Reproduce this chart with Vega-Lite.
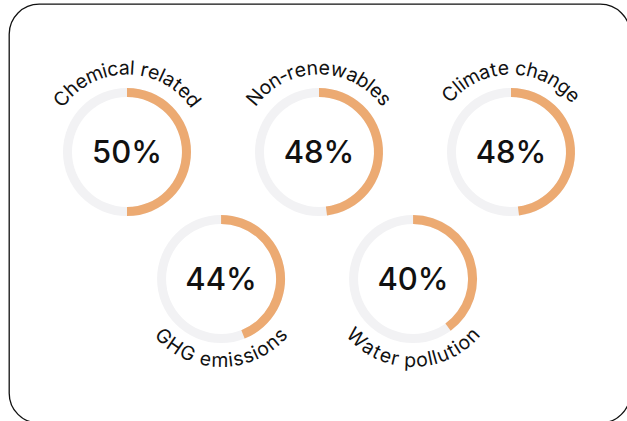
{
  "$schema": "https://vega.github.io/schema/vega-lite/v6.json",
  "width": 621,
  "height": 419,
  "autosize": {"type": "none"},
  "padding": {"left": 9, "top": 4, "right": 0, "bottom": 0},
  "background": "white",
  "config": {
    "view": {"stroke": "#111111", "strokeWidth": 1.3, "cornerRadius": 30},
    "font": "Inter"
  },
  "data": {
    "values": [
      {"label": "Chemical related", "pct": 50, "idx": 0},
      {"label": "Non-renewables", "pct": 48, "idx": 1},
      {"label": "Climate change", "pct": 48, "idx": 2},
      {"label": "GHG emissions", "pct": 44, "idx": 3},
      {"label": "Water pollution", "pct": 40, "idx": 4}
    ]
  },
  "transform": [
    {"calculate": "datum.idx < 3 ? datum.idx : datum.idx - 2.51", "as": "gx"},
    {"calculate": "datum.idx < 3 ? 0 : 1", "as": "gy"}
  ],
  "encoding": {
    "x": {"field": "gx", "type": "quantitative", "axis": null, "scale": {"domain": [-0.61458, 2.61979], "nice": false, "zero": false}},
    "y": {"field": "gy", "type": "quantitative", "axis": null, "scale": {"domain": [-1.16535, 2.13386], "nice": false, "zero": false, "reverse": true}}
  },
  "layer": [
    {
      "mark": {"type": "arc", "outerRadius": 64, "innerRadius": 55, "color": "#F2F2F4"},
      "encoding": {
        "theta": {"value": 0},
        "theta2": {"value": 6.2832}
      }
    },
    {
      "mark": {"type": "arc", "outerRadius": 64, "innerRadius": 55, "color": "#ECAA72"},
      "encoding": {
        "theta": {"field": "pct", "type": "quantitative", "stack": null, "scale": {"domain": [0, 100], "range": [0, 6.283185]}},
        "theta2": {"value": 0}
      }
    },
    {
      "transform": [{"calculate": "datum.pct + '%'", "as": "ptxt"}],
      "mark": {"type": "text", "fontSize": 31, "fontWeight": 500, "color": "#111111", "baseline": "alphabetic", "align": "center", "dy": 11},
      "encoding": {
        "text": {"field": "ptxt", "type": "nominal"}
      }
    },
    {
      "transform": [
        {"calculate": "split(datum.label, '')", "as": "chars"},
        {"flatten": ["chars"], "as": ["ch"]},
        {"calculate": "datum.ch == ' ' ? 0.28 : indexof('il', datum.ch) >= 0 ? 0.24 : indexof('rt-', datum.ch) >= 0 ? 0.38 : indexof('mw', datum.ch) >= 0 ? 0.85 : datum.ch == 'W' ? 0.98 : indexof('CGHN', datum.ch) >= 0 ? 0.74 : datum.ch == 's' ? 0.52 : indexof('ac', datum.ch) >= 0 ? 0.56 : 0.59", "as": "w"},
        {"window": [{"op": "sum", "field": "w", "as": "cum"}], "groupby": ["label"], "frame": [null, 0]},
        {"joinaggregate": [{"op": "sum", "field": "w", "as": "tot"}], "groupby": ["label"]},
        {"calculate": "(datum.cum - datum.w / 2 - datum.tot / 2) * 0.245", "as": "off"}
      ],
      "layer": [
        {
          "transform": [
            {"filter": "datum.idx < 3"},
            {"calculate": "datum.off", "as": "th"},
            {"calculate": "datum.off * 180 / PI", "as": "rot"}
          ],
          "mark": {"type": "text", "fontSize": 19.5, "color": "#111111", "align": "center", "baseline": "alphabetic", "radius": 77.5},
          "encoding": {
            "text": {"field": "ch", "type": "nominal"},
            "theta": {"field": "th", "type": "quantitative", "scale": null, "stack": null},
            "angle": {"field": "rot", "type": "quantitative", "scale": null}
          }
        },
        {
          "transform": [
            {"filter": "datum.idx >= 3"},
            {"calculate": "PI - datum.off", "as": "th"},
            {"calculate": "-datum.off * 180 / PI", "as": "rot"}
          ],
          "mark": {"type": "text", "fontSize": 19.5, "color": "#111111", "align": "center", "baseline": "alphabetic", "radius": 88},
          "encoding": {
            "text": {"field": "ch", "type": "nominal"},
            "theta": {"field": "th", "type": "quantitative", "scale": null, "stack": null},
            "angle": {"field": "rot", "type": "quantitative", "scale": null}
          }
        }
      ]
    }
  ]
}
